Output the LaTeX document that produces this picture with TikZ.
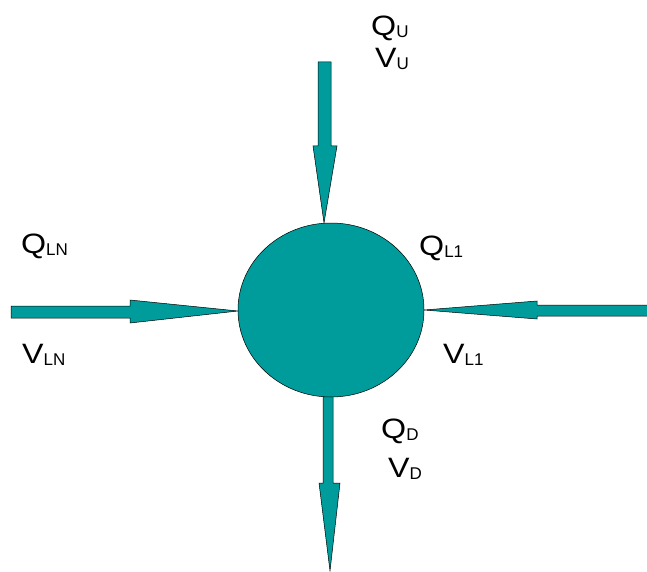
\documentclass[tikz,border=0pt]{standalone}
\usepackage{fontspec}
\setmainfont{Liberation Sans}
\newfontfamily\lblfont[FakeStretch=1.15]{Liberation Sans}
\usetikzlibrary{shapes.geometric}
\definecolor{tealfill}{RGB}{0,156,156}
\newcommand\mylbl[2]{{\lblfont #1}\raisebox{-2pt}{\rmfamily\fontsize{17}{17}\selectfont #2}}
\begin{document}
\begin{tikzpicture}[x=1pt,y=-1pt,
  arrowbody/.style={fill=tealfill,draw=black,line width=0.5pt,line join=miter},
  lbl/.style={anchor=base west,inner sep=0pt,font=\fontsize{28}{28}\selectfont}]
\useasboundingbox (0,0) rectangle (647,572);
% top arrow
\draw[arrowbody] (318,62) -- (331,62) -- (331,146) -- (337,146) -- (324,223) coordinate (tipU) -- (313,146) -- (318,146) -- cycle;
% left arrow
\draw[arrowbody] (11,306) -- (130,306) -- (130,300) -- (238,311) coordinate (tipLN) -- (130,323) -- (130,318) -- (11,318) -- cycle;
% right arrow
\draw[arrowbody] (648,305) -- (537,305) -- (537,301) -- (424,310) coordinate (tipL1) -- (537,319) -- (537,316) -- (648,316) -- cycle;
% bottom arrow
\draw[arrowbody] (323,380) -- (333,380) -- (333,483) -- (340,483) -- (330,571) coordinate (tipD) -- (319,483) -- (323,483) -- cycle;
% node circle
\node[ellipse,draw=black,line width=0.5pt,fill=tealfill,minimum width=186pt,minimum height=174pt,inner sep=0pt] (junction) at (331,310) {};
% labels
\node[lbl] (qu) at (371,36) {\mylbl{Q}{U}};
\node[lbl] (vu) at (375,68) {\mylbl{V}{U}};
\node[lbl] (qln) at (21,253) {\mylbl{Q}{LN}};
\node[lbl] (vln) at (22,363) {\mylbl{V}{LN}};
\node[lbl] (ql1) at (419,255) {\mylbl{Q}{L1}};
\node[lbl] (vl1) at (443,363) {\mylbl{V}{L1}};
\node[lbl] (qd) at (381,438) {\mylbl{Q}{D}};
\node[lbl] (vd) at (388,477) {\mylbl{V}{D}};
\end{tikzpicture}
\end{document}
